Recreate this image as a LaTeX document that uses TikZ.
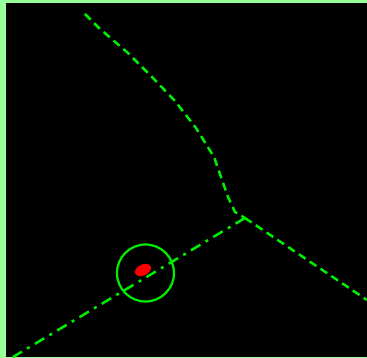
\documentclass[tikz,border=0pt]{standalone}
\usetikzlibrary{calc}
\definecolor{frame}{HTML}{99FF99}
\definecolor{ridge}{HTML}{00EE00}
\definecolor{spot}{HTML}{FF0000}
\tikzset{
  ridgeline/.style={draw=ridge,line width=2.5pt,dash pattern=on 8pt off 5pt},
  faultline/.style={draw=ridge,line width=2.5pt,dash pattern=on 11pt off 6pt on 3pt off 6pt},
  ring/.style={draw=ridge,line width=2.2pt},
}
\begin{document}
\begin{tikzpicture}[x=1pt,y=-1pt]
  % frame and ground
  \fill[frame] (0,0) rectangle (367,358);
  \fill[black] (6,3) rectangle (367,357);
  \useasboundingbox (0,0) rectangle (367,358);
  \coordinate (junction) at (245,218);
  \coordinate (top) at (85,14);
  \coordinate (east) at (367,300);
  \coordinate (southwest) at (13,357);
  % ridges
  \draw[ridgeline] (top) -- (100,29) -- (128,53) -- (152,77) -- (175,101)
    -- (196,128) -- (214,157) -- (228,197) -- (235,212) -- (junction);
  \draw[ridgeline] (junction) -- (east);
  \draw[faultline] (junction) -- (southwest);
  % marker
  \fill[spot,rotate around={25:(143,270)}] (143,270) ellipse (8.5 and 5.5);
  \draw[ring] (145.5,273) circle (28.5);
\end{tikzpicture}
\end{document}
